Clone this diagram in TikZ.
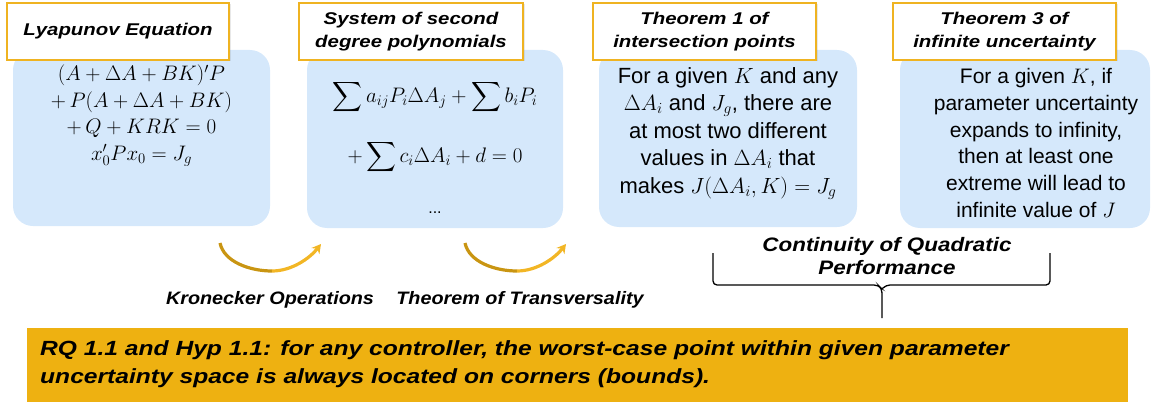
\documentclass[tikz,border=0pt]{standalone}
\usepackage{fix-cm}
\usepackage{amsmath}
\usepackage{fontspec}
\setmainfont{Liberation Sans}
\newfontfamily\widefont{Liberation Sans}[FakeStretch=1.2]
\newfontfamily\midfont{Liberation Sans}[FakeStretch=1.15]
\newfontfamily\lblfont{Liberation Sans}[FakeStretch=1.1]
\usetikzlibrary{arrows.meta,shadows}
\definecolor{boxblue}{HTML}{D5E8FB}
\definecolor{gold}{HTML}{EFB321}
\definecolor{banner}{HTML}{EEB111}
\definecolor{arrA}{HTML}{C99512}
\definecolor{arrB}{HTML}{F2B625}
\tikzset{
  bluebox/.style={fill=boxblue, rounded corners=20pt, inner sep=0pt},
  titlebox/.style={draw=gold, line width=2pt, fill=white, inner sep=0pt,
     minimum height=57pt, align=center,
     font=\widefont\fontsize{17}{23}\selectfont\bfseries\itshape,
     drop shadow={opacity=0.18, shadow xshift=1.5pt, shadow yshift=-1.5pt}},
  bodytext/.style={align=center, inner sep=0pt, font=\fontsize{21}{27.5}\selectfont},
  mathtext/.style={align=center, inner sep=0pt, font=\fontsize{21}{26.5}\selectfont},
  lbl/.style={inner sep=0pt, font=\lblfont\fontsize{18}{22}\selectfont\bfseries\itshape, align=center},
  curvarrow/.style={line width=3.2pt, -{Stealth[length=9pt,width=10pt]}},
}
\begin{document}
\begin{tikzpicture}[x=1pt,y=-1pt]
\useasboundingbox (0,0) rectangle (1153,404);
% blue boxes
\node[bluebox, minimum width=257pt, minimum height=176pt] (b1) at (141.5,138) {};
\node[bluebox, minimum width=256pt, minimum height=178pt] (b2) at (435,139) {};
\node[bluebox, minimum width=258pt, minimum height=177pt] (b3) at (728,138.5) {};
\node[bluebox, minimum width=250pt, minimum height=178pt] (b4) at (1025,139) {};
% title boxes
\node[titlebox, minimum width=222pt] (t1) at (118,31.5) {Lyapunov Equation};
\node[titlebox, minimum width=224pt] (t2) at (411,31.5) {System of second\\degree polynomials};
\node[titlebox, minimum width=223pt] (t3) at (704.5,31.5) {Theorem 1 of\\intersection points};
\node[titlebox, minimum width=223pt] (t4) at (1004.5,31.5) {Theorem 3 of\\infinite uncertainty};
% box 1 content
\node[mathtext, anchor=north] (m1) at (141.5,65) {$(A+\Delta A+BK)'P$\\ $+\,P(A+\Delta A+BK)$\\ $+\,Q+KRK=0$\\ $x_0'Px_0=J_g$};
% box 2 content
\node[mathtext] (m2a) at (435,97) {$\displaystyle\sum a_{ij}P_i\Delta A_j+\sum b_iP_i$};
\node[mathtext] (m2b) at (435,157) {$\displaystyle +\sum c_i\Delta A_i+d=0$};
\node[bodytext, font=\fontsize{16}{20}\selectfont] (m2c) at (435,213) {...};
% box 3 content
\node[bodytext, anchor=north, font=\fontsize{22}{27.5}\selectfont] (m3) at (728,67) {For a given $K$ and any\\ $\Delta A_i$ and $J_g$, there are\\ at most two different\\ values in $\Delta A_i$ that\\ makes $J(\Delta A_i,K)=J_g$};
% box 4 content
\node[bodytext, anchor=north, font=\fontsize{21}{26.8}\selectfont] (m4) at (1036,68) {For a given $K$, if\\ parameter uncertainty\\ expands to infinity,\\ then at least one\\ extreme will lead to\\ infinite value of $J$};
% curved arrows
\coordinate (a1s) at (220,243);
\coordinate (a1m) at (272,271);
\coordinate (a1e) at (321,244);
\coordinate (a2s) at (465,243);
\coordinate (a2m) at (517,271);
\coordinate (a2e) at (566,244);
\draw[arrA, line width=3.2pt] (a1s) .. controls (224,262) and (250,271) .. (a1m);
\draw[arrB, curvarrow] (a1m) .. controls (292,271) and (310,258) .. (a1e);
\draw[arrA, line width=3.2pt] (a2s) .. controls (469,262) and (495,271) .. (a2m);
\draw[arrB, curvarrow] (a2m) .. controls (537,271) and (555,258) .. (a2e);
% labels
\node[lbl] (k) at (270,300) {Kronecker Operations};
\node[lbl] (tt) at (520,300) {Theorem of Transversality};
\node[lbl, font=\midfont\fontsize{19.5}{23}\selectfont\bfseries\itshape] (cq) at (887,256) {Continuity of Quadratic\\Performance};
% brace
\coordinate (brl) at (713,253);
\coordinate (brr) at (1050,253);
\coordinate (brm) at (882,318);
\draw[line width=1.3pt, rounded corners=4pt] (brl) -- (713,285) -- (878,285) -- (882,289) -- (brm);
\draw[line width=1.3pt, rounded corners=4pt] (brr) -- (1050,285) -- (886,285) -- (882,289);
% banner
\node[fill=banner, minimum width=1101pt, minimum height=74pt, inner sep=0pt] (ban) at (577.5,365) {};
\node[anchor=north west, inner sep=0pt, align=left, font=\widefont\fontsize{20.5}{28}\selectfont\bfseries\itshape] (bt) at (40,340) {RQ 1.1 and Hyp 1.1: for any controller, the worst-case point within given parameter\\uncertainty space is always located on corners (bounds).};
\end{tikzpicture}
\end{document}
